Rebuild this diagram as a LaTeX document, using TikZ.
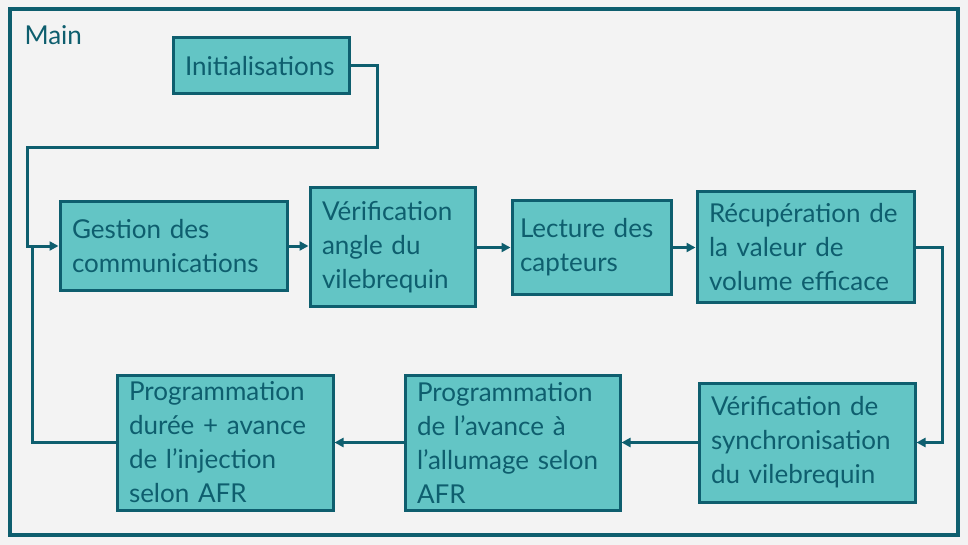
\documentclass[tikz,border=0pt]{standalone}
\usepackage{fontspec}
\setmainfont{Lato}
\usepackage{tikz}
\usetikzlibrary{arrows.meta}
\definecolor{petrole}{RGB}{14, 94, 110}
\definecolor{turquoise}{RGB}{99, 197, 197}
\definecolor{fond}{RGB}{243, 243, 243}

\begin{document}
\begin{tikzpicture}[x=1pt, y=-1pt,
  bloc/.style={draw=petrole, fill=turquoise, line width=3pt, text=petrole,
    align=left, inner xsep=12pt, inner ysep=0pt,
    font=\fontsize{26}{34}\selectfont},
  fleche/.style={draw=petrole, line width=3pt,
    -{Triangle[length=9pt, width=9pt]}},
  liaison/.style={draw=petrole, line width=3pt}]
  % fond et cadre
  \fill[fond] (0,0) rectangle (968,545);
  \draw[petrole, line width=3.5pt] (10,9) rectangle (958,535);
  \node[anchor=base west, text=petrole, font=\fontsize{26}{34}\selectfont] (titre) at (21,45) {Main};

  % ligne du haut
  \node[bloc, text width=152pt, minimum height=56pt] (init) at (261,66) {Initialisations};
  \node[bloc, text width=203pt, minimum height=88pt] (gest) at (173.5,246) {Gestion des\\communications};
  \node[bloc, text width=141pt, minimum height=118pt] (vang) at (392.5,247) {Vérification\\angle du\\vilebrequin};
  \node[bloc, text width=143pt, inner xsep=8pt, minimum height=93pt] (lect) at (591.5,247.5) {Lecture des\\capteurs};
  \node[bloc, text width=193pt, minimum height=110pt] (recup) at (805.5,247) {Récupération de\\la valeur de\\volume efficace};

  % ligne du bas
  \node[bloc, text width=192pt, minimum height=119pt] (vsync) at (807,442.5) {Vérification de\\synchronisation\\du vilebrequin};
  \node[bloc, text width=191pt, minimum height=135pt] (pall) at (512.5,442.5) {Programmation\\de l’avance à\\l’allumage selon\\AFR};
  \node[bloc, text width=192pt, minimum height=135pt] (pinj) at (225,442.5) {Programmation\\durée + avance\\de l’injection\\selon AFR};

  % points de passage
  \coordinate (c1) at (377,148);
  \coordinate (c2) at (27,148);
  \coordinate (c3) at (32,246);
  \coordinate (c4) at (942,340);

  % liaisons
  \draw[fleche] (init.east) -| (c1) -- (c2) |- (gest.west);
  \draw[fleche] (gest.east) -- (gest.east -| vang.west);
  \draw[fleche] (vang.east |- lect.west) -- (lect.west);
  \draw[fleche] (lect.east) -- (lect.east -| recup.west);
  \draw[fleche] (recup.east) -| (c4) |- (vsync.east);
  \draw[fleche] (vsync.west) -- (vsync.west -| pall.east);
  \draw[fleche] (pall.west) -- (pall.west -| pinj.east);
  \draw[liaison] (pinj.west) -| (c3);
\end{tikzpicture}
\end{document}
